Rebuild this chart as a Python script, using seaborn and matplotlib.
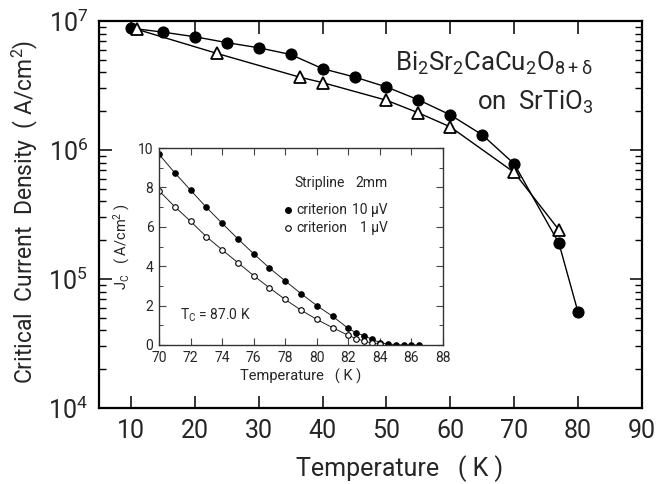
import numpy as np
import pandas as pd
import matplotlib
matplotlib.use('Agg')
import matplotlib.pyplot as plt
import seaborn as sns
from matplotlib.ticker import LogLocator, MultipleLocator, LogFormatterMathtext, NullFormatter, FixedLocator

# ---- main panel data ----
T_circ = [10, 15, 20, 25, 30, 35, 40, 45, 50, 55, 60, 65, 70, 77, 80]
J_circ = [8.8e6, 8.2e6, 7.55e6, 6.8e6, 6.2e6, 5.5e6, 4.27e6, 3.68e6, 3.08e6,
          2.45e6, 1.87e6, 1.31e6, 7.8e5, 1.89e5, 5.5e4]
T_tri = [11, 23.5, 36.5, 40, 50, 55, 60, 70, 77]
J_tri = [8.6e6, 5.6e6, 3.66e6, 3.33e6, 2.43e6, 1.94e6, 1.51e6, 6.7e5, 2.4e5]

x_ticks = [10, 20, 30, 40, 50, 60, 70, 80, 90]

# ---- inset data ----
T_in_10 = [70, 71, 72, 73, 74, 75, 76, 77, 78, 79, 80, 81, 82, 82.5, 83, 83.5,
           84, 84.5, 85, 85.5, 86, 86.5]
J_in_10 = [9.68, 8.74, 7.86, 6.99, 6.18, 5.39, 4.63, 3.91, 3.25, 2.61, 2.0, 1.46,
           0.84, 0.62, 0.47, 0.29, 0.12, 0.05, 0.02, 0.0, 0.0, 0.0]
T_in_1 = [70, 71, 72, 73, 74, 75, 76, 77, 78, 79, 80, 81, 82, 82.5, 83, 83.5, 84]
J_in_1 = [7.83, 7.02, 6.28, 5.5, 4.83, 4.18, 3.52, 2.9, 2.31, 1.77, 1.3, 0.88,
          0.49, 0.32, 0.2, 0.1, 0.04]
inset_x_ticks = [70, 72, 74, 76, 78, 80, 82, 84, 86, 88]
inset_y_ticks = [0, 2, 4, 6, 8, 10]

sns.set_style('ticks')
FONT = ['Roboto', 'DejaVu Sans']
plt.rcParams['font.family'] = FONT
plt.rcParams['mathtext.default'] = 'regular'

fig = plt.figure(figsize=(6.66, 4.84), dpi=100)
ax = fig.add_axes([99/666, 1-408/484, (642-99)/666, (408-21)/484])

main_c = pd.DataFrame({'T': T_circ, 'J': J_circ})
main_t = pd.DataFrame({'T': T_tri, 'J': J_tri})
sns.lineplot(data=main_c, x='T', y='J', ax=ax, color='black', lw=1.0,
             marker='o', markersize=8, markerfacecolor='black',
             markeredgecolor='black')
sns.lineplot(data=main_t, x='T', y='J', ax=ax, color='black', lw=1.0,
             marker='^', markersize=8.5, markerfacecolor='white',
             markeredgecolor='black', markeredgewidth=1.3)

ax.set_yscale('log')
ax.set_xlim(5, 90)
ax.set_ylim(1e4, 1e7)
ax.xaxis.set_major_locator(FixedLocator(x_ticks))
ax.yaxis.set_major_locator(LogLocator(base=10, numticks=10))
ax.yaxis.set_minor_locator(LogLocator(base=10, subs=np.arange(2, 10), numticks=10))
ax.yaxis.set_major_formatter(LogFormatterMathtext())
ax.yaxis.set_minor_formatter(NullFormatter())
ax.tick_params(axis='both', which='both', direction='in', top=True, right=True,
               labelsize=18, color='black')
ax.tick_params(axis='both', which='major', length=9, width=1.1, pad=8)
ax.tick_params(axis='y', which='minor', length=5, width=1.0)
for s in ax.spines.values():
    s.set_linewidth(1.6)
    s.set_color('black')
ax.set_xlabel('Temperature   ( K )', fontsize=18)
ax.xaxis.set_label_coords((400-99)/543, -(455-408)/387, transform=ax.transAxes)
ax.set_ylabel('Critical  Current  Density  ( A/cm$^{2}$)', fontsize=16.5)
ax.yaxis.set_label_coords(-(99-40)/543, (408-212)/387, transform=ax.transAxes)

# text positions in display pixels (origin bottom-left)
ax.text(593, 484-63, r'Bi$_{2}$Sr$_{2}$CaCu$_{2}$O$_{8+\delta}$', transform=None,
        fontsize=18.5, ha='right', va='center')
ax.text(593, 484-102, 'on  SrTiO$_{3}$', transform=None, fontsize=18.5,
        ha='right', va='center')

# ---- inset ----
ins = fig.add_axes([159/666, 1-345/484, (443-159)/666, (345-148)/484])
ins.set_facecolor('white')
d10 = pd.DataFrame({'T': T_in_10, 'J': J_in_10})
d1 = pd.DataFrame({'T': T_in_1, 'J': J_in_1})
sns.lineplot(data=d10, x='T', y='J', ax=ins, color='#222222', lw=0.7,
             marker='o', markersize=4, markerfacecolor='black',
             markeredgecolor='black')
sns.lineplot(data=d1, x='T', y='J', ax=ins, color='#222222', lw=0.7,
             marker='o', markersize=4, markerfacecolor='white',
             markeredgecolor='black', markeredgewidth=0.8)
ins.set_xlim(70, 88)
ins.set_ylim(0, 10)
ins.xaxis.set_major_locator(FixedLocator(inset_x_ticks))
ins.yaxis.set_major_locator(FixedLocator(inset_y_ticks))
ins.yaxis.set_minor_locator(MultipleLocator(1))
ins.tick_params(axis='both', which='both', direction='in', top=True, right=True,
                labelsize=10, color='#444444')
ins.tick_params(axis='both', which='major', length=5, width=0.8, pad=4)
ins.tick_params(axis='y', which='minor', length=3, width=0.7)
for s in ins.spines.values():
    s.set_linewidth(1.0)
    s.set_color('#333333')
ins.set_xlabel('Temperature   ( K )', fontsize=10.5, labelpad=3)
ins.set_ylabel('J$_{C}$   ( A/cm$^{2}$ )', fontsize=10.5, labelpad=4)

ins.text(78.6, 8.2, 'Stripline', fontsize=10, va='center', ha='left')
ins.text(84.5, 8.2, '2mm', fontsize=10, va='center', ha='right')
ins.plot([78.15], [6.85], 'o', color='black', ms=4)
ins.text(78.7, 6.85, 'criterion', fontsize=10, va='center', ha='left')
ins.text(84.5, 6.85, '10 \u03bcV', fontsize=10, va='center', ha='right')
ins.plot([78.15], [5.94], 'o', mfc='white', mec='black', ms=4, mew=0.8)
ins.text(78.7, 5.94, 'criterion', fontsize=10, va='center', ha='left')
ins.text(84.5, 5.94, '1 \u03bcV', fontsize=10, va='center', ha='right')
ins.text(71.3, 1.5, 'T$_{C}$ = 87.0 K', fontsize=10, va='center', ha='left')

fig.savefig('out.png', dpi=100)
